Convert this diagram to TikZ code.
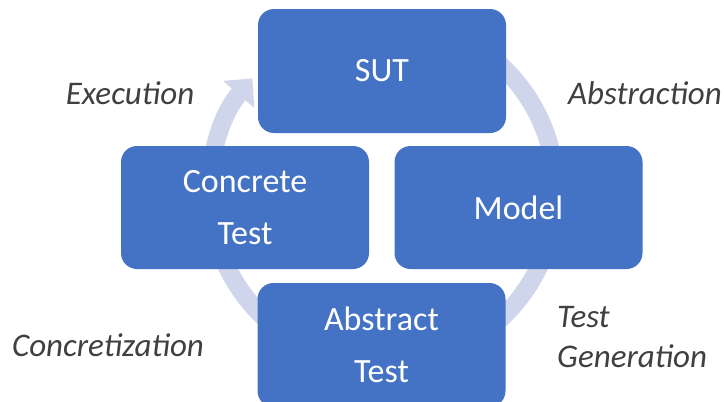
\documentclass[tikz,border=0pt]{standalone}
\usepackage{fontspec}
\setmainfont{Carlito}
\usetikzlibrary{arrows.meta,calc}
\definecolor{boxblue}{HTML}{4472C4}
\definecolor{ringcol}{HTML}{CFD5EA}
\definecolor{labelgray}{HTML}{404040}
\tikzset{
  stagebox/.style={fill=boxblue, draw=none, rounded corners=16pt,
    minimum width=248pt, minimum height=124pt, inner sep=0pt,
    text=white, align=center, font=\fontsize{34}{52}\selectfont},
  steplabel/.style={text=labelgray, inner sep=0pt,
    font=\fontsize{33}{40}\selectfont\itshape},
  ring/.style={draw=ringcol, line width=18pt,
    -{Triangle[length=21pt, width=40pt, color=ringcol]}}
}
\begin{document}
\begin{tikzpicture}[x=1pt, y=-1pt]
\useasboundingbox (0,0) rectangle (724,402);
\coordinate (c) at (383,192);
% ring arrow
\draw[ring] ($(c)+(-100:173)$) arc[start angle=-100, end angle=221, radius=173];
% boxes
\node[stagebox] (sut) at (382,71) {SUT};
\node[stagebox, minimum height=123pt] (model) at (518.5,207.5) {Model};
\node[stagebox, minimum height=123pt] (conc) at (245,207.5) {Concrete\\Test};
\node[stagebox] (abs) at (381.5,345) {Abstract\\Test};
% labels
\node[steplabel, anchor=base] (lexe) at (130,104) {Execution};
\node[steplabel, anchor=base] (labs) at (645,104) {Abstraction};
\node[steplabel, anchor=base west, align=left] (lgen) at (557,327) {Test};
\node[steplabel, anchor=base west] (lgen2) at (557,367) {Generation};
\node[steplabel, anchor=base] (lcon) at (108,356) {Concretization};
\end{tikzpicture}
\end{document}
